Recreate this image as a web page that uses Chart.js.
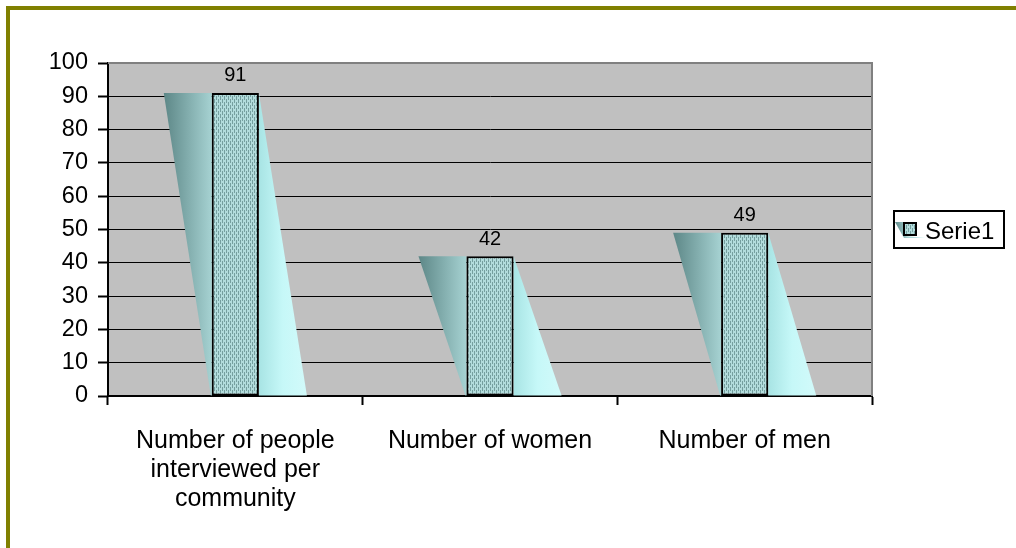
<!DOCTYPE html>
<html>
<head>
<meta charset="utf-8">
<script src="https://cdn.jsdelivr.net/npm/chart.js@4/dist/chart.umd.min.js"></script>
<style>
  html, body { margin: 0; padding: 0; background: #ffffff; }
  #wrap { width: 1016px; height: 548px; position: relative; }
</style>
</head>
<body>
<div id="wrap"><canvas id="c" width="1016" height="548"></canvas></div>
<script>
// ---- data ----
const categories = [
  ["Number of people", "interviewed per", "community"],
  "Number of women",
  "Number of men"
];
const seriesName = "Serie1";
const seriesValues = [91, 42, 49];
const yMin = 0;
const yMax = 100;
const yStep = 10;

// ---- styles ----
const FONT = "'Liberation Sans', Arial, sans-serif";
const OLIVE = "#808000";
const PLOT_BG = "#c0c0c0";

function makeBarPattern() {
  const p = document.createElement("canvas");
  p.width = 4; p.height = 6;
  const g = p.getContext("2d");
  g.fillStyle = "#b2dcdc";
  g.fillRect(0, 0, 4, 6);
  g.fillStyle = "#759f9f";
  g.fillRect(0, 0, 1, 4);
  g.fillRect(2, 3, 1, 3);
  g.fillRect(2, 0, 1, 1);
  return g.createPattern(p, "repeat");
}
const barPattern = makeBarPattern();

const SHADOW_DX = 48;

const decorPlugin = {
  id: "decor",
  beforeDraw(chart) {
    const { ctx, chartArea: a } = chart;
    ctx.save();
    ctx.fillStyle = "#ffffff";
    ctx.fillRect(0, 0, chart.width, chart.height);
    ctx.fillStyle = OLIVE;
    ctx.fillRect(6, 6, chart.width - 6, 4);
    ctx.fillRect(6, 6, 4, chart.height - 6);
    ctx.fillStyle = PLOT_BG;
    ctx.fillRect(a.left, a.top, a.right - a.left, a.bottom - a.top);
    ctx.restore();
  },
  beforeDatasetsDraw(chart) {
    const { ctx, chartArea: a } = chart;
    ctx.save();
    // plot area border (top and right, gray)
    ctx.strokeStyle = "#808080";
    ctx.lineWidth = 2;
    ctx.beginPath();
    ctx.moveTo(a.left, a.top);
    ctx.lineTo(a.right, a.top);
    ctx.lineTo(a.right, a.bottom);
    ctx.stroke();
    // bar shadows
    const meta = chart.getDatasetMeta(0);
    meta.data.forEach(bar => {
      const p = bar.getProps(["x", "y", "base", "width"], true);
      const left = p.x - p.width / 2;
      const right = p.x + p.width / 2;
      // dark left wedge
      let g = ctx.createLinearGradient(left - SHADOW_DX, 0, left, 0);
      g.addColorStop(0, "#5d8787");
      g.addColorStop(1, "#a6d2d2");
      ctx.fillStyle = g;
      ctx.beginPath();
      ctx.moveTo(left - SHADOW_DX, p.y);
      ctx.lineTo(left, p.y);
      ctx.lineTo(left, p.base);
      ctx.lineTo(left - 1, p.base);
      ctx.closePath();
      ctx.fill();
      // light right wedge
      g = ctx.createLinearGradient(right, 0, right + SHADOW_DX, 0);
      g.addColorStop(0, "#a8e4e4");
      g.addColorStop(0.5, "#c6f8f8");
      g.addColorStop(1, "#d2fafa");
      ctx.fillStyle = g;
      ctx.beginPath();
      ctx.moveTo(right, p.y);
      ctx.lineTo(right, p.base);
      ctx.lineTo(right + SHADOW_DX, p.base);
      ctx.closePath();
      ctx.fill();
    });
    ctx.restore();
  },
  afterDatasetsDraw(chart) {
    const { ctx } = chart;
    const meta = chart.getDatasetMeta(0);
    ctx.save();
    ctx.fillStyle = "#000000";
    ctx.font = "20px " + FONT;
    ctx.textAlign = "center";
    ctx.textBaseline = "middle";
    meta.data.forEach((bar, i) => {
      const p = bar.getProps(["x", "y"], true);
      ctx.fillText(String(chart.data.datasets[0].data[i]), p.x, p.y - 17);
    });
    ctx.restore();
  },
  afterDraw(chart) {
    const { ctx } = chart;
    ctx.save();
    // legend box
    ctx.strokeStyle = "#000000";
    ctx.lineWidth = 2;
    ctx.strokeRect(894, 211, 110, 37);
    // legend marker shadow
    const g = ctx.createLinearGradient(894, 0, 930, 0);
    g.addColorStop(0, "#5d8787");
    g.addColorStop(0.4, "#a6d2d2");
    g.addColorStop(1, "#d2fafa");
    ctx.fillStyle = g;
    ctx.beginPath();
    ctx.moveTo(895, 222);
    ctx.lineTo(904, 222);
    ctx.lineTo(904, 236);
    ctx.lineTo(926, 238);
    ctx.lineTo(904, 238);
    ctx.closePath();
    ctx.fill();
    ctx.fillStyle = barPattern;
    ctx.fillRect(904, 223, 12, 12);
    ctx.lineWidth = 2;
    ctx.strokeRect(904, 223, 12, 12);
    ctx.fillStyle = "#000000";
    ctx.font = "24px " + FONT;
    ctx.textAlign = "left";
    ctx.textBaseline = "middle";
    ctx.fillText(chart.data.datasets[0].label, 925, 232);
    ctx.restore();
  }
};

new Chart(document.getElementById("c"), {
  type: "bar",
  data: {
    labels: categories,
    datasets: [{
      label: seriesName,
      data: seriesValues,
      backgroundColor: barPattern,
      borderColor: "#000000",
      borderWidth: 2,
      borderSkipped: false,
      categoryPercentage: 1.0,
      barPercentage: 0.185
    }]
  },
  options: {
    responsive: false,
    animation: false,
    devicePixelRatio: 1,
    layout: { padding: { top: 63, right: 144, left: 0, bottom: 0 } },
    plugins: {
      legend: { display: false },
      tooltip: { enabled: false },
      title: { display: false }
    },
    scales: {
      x: {
        offset: true,
        afterFit(axis) { axis.height = 152; },
        grid: {
          display: true,
          offset: true,
          drawOnChartArea: false,
          drawTicks: true,
          tickLength: 9,
          tickColor: "#000000",
          tickWidth: 2
        },
        border: { display: true, color: "#000000", width: 2 },
        ticks: {
          color: "#000000",
          font: { family: FONT, size: 25, lineHeight: 1.17 },
          padding: 21,
          maxRotation: 0,
          autoSkip: false
        }
      },
      y: {
        min: yMin,
        max: yMax,
        afterFit(axis) { axis.width = 108; },
        grid: {
          color: "#000000",
          lineWidth: 1,
          drawTicks: true,
          tickLength: 10,
          tickColor: "#000000",
          tickWidth: 2
        },
        border: { display: true, color: "#000000", width: 2 },
        ticks: {
          stepSize: yStep,
          color: "#000000",
          font: { family: FONT, size: 23.5 },
          padding: 10
        }
      }
    }
  },
  plugins: [decorPlugin]
});
</script>
</body>
</html>
